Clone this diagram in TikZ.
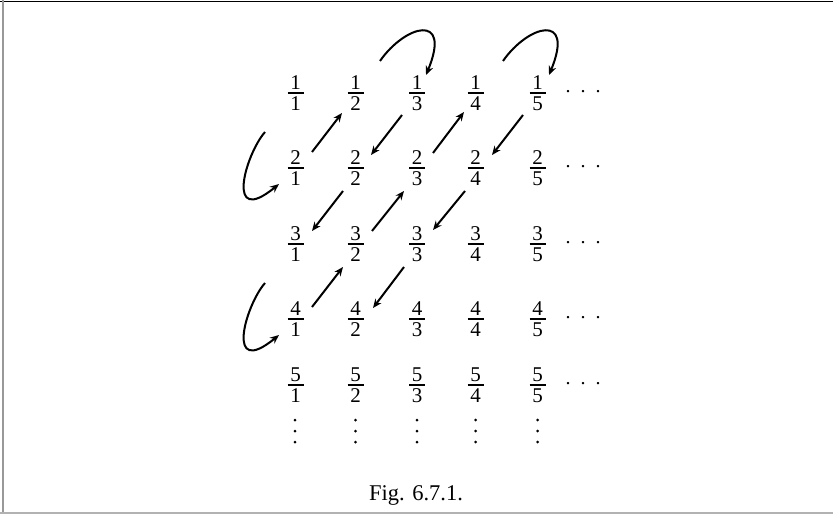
\documentclass[tikz,border=0pt]{standalone}
\usepackage{fontspec}
\setmainfont{Liberation Serif}
\usetikzlibrary{arrows.meta}
\tikzset{
  num/.style={anchor=base,inner sep=0pt,font=\fontsize{21}{25}\selectfont},
  bar/.style={line width=1.1pt},
  arr/.style={line width=2pt,-{Stealth[length=9pt,width=7.5pt]}},
  hdots/.style={anchor=base,inner sep=0pt,font=\fontsize{20}{24}\selectfont},
  vdot/.style={fill=black,draw=none},
  captext/.style={anchor=base,inner sep=0pt,font=\fontsize{22.5}{26}\selectfont},
}
\begin{document}
\begin{tikzpicture}[x=1pt,y=-1pt]
\useasboundingbox (0,0) rectangle (833,514);
% frame
\draw[line width=1.3pt,black] (0,1.6) -- (833,1.6);
\draw[line width=2pt,gray!80] (2.8,0) -- (2.8,514);
\draw[line width=1.5pt,gray!60] (0,513) -- (833,513);
% fractions
\foreach \r/\y in {1/93,2/168,3/244,4/319,5/385}{
  \foreach \c/\x in {1/295.5,2/355.5,3/417,4/475.5,5/537.5}{
    \node[num] (n\r\c) at (\x,\y-3.5) {\r};
    \node[num] (d\r\c) at (\x,\y+17) {\c};
    \coordinate (bl\r\c) at (\x-8,\y);
    \coordinate (br\r\c) at (\x+8,\y);
    \draw[bar] (bl\r\c) -- (br\r\c);
  }
  \node[hdots] (h\r) at (583,\y-0.5) {.\kern10pt.\kern10pt.};
}
\foreach \x in {295,355.5,417,475.5,537.5}{
  \foreach \yy in {420,431,442}{
    \fill[vdot] (\x,\yy) circle (1.5);
  }
}
% arrow end points
\coordinate (a1s) at (312,152); \coordinate (a1e) at (342,113);
\coordinate (a2s) at (402,115); \coordinate (a2e) at (371,155);
\coordinate (a3s) at (343,191); \coordinate (a3e) at (312,231);
\coordinate (a4s) at (312,307); \coordinate (a4e) at (343,267);
\coordinate (a5s) at (372,231); \coordinate (a5e) at (404,191);
\coordinate (a6s) at (433,153); \coordinate (a6e) at (464,112);
\coordinate (a7s) at (523,115); \coordinate (a7e) at (492,155);
\coordinate (a8s) at (465,191); \coordinate (a8e) at (433,230);
\coordinate (a9s) at (404,267); \coordinate (a9e) at (373,308);
\foreach \i in {1,...,9}{\draw[arr] (a\i s) -- (a\i e);}
% curved arrows
\coordinate (t1s) at (380,61); \coordinate (t1e) at (426,75);
\coordinate (t2s) at (503,61); \coordinate (t2e) at (549,75);
\coordinate (l1s) at (265,132); \coordinate (l1e) at (279,184);
\coordinate (l2s) at (265,283); \coordinate (l2e) at (279,335);
\draw[arr] (t1s) .. controls (405,25) and (452,12) .. (t1e);
\draw[arr] (t2s) .. controls (528,25) and (575,12) .. (t2e);
\draw[arr] (l1s) .. controls (245,155) and (225,228) .. (l1e);
\draw[arr] (l2s) .. controls (245,306) and (225,379) .. (l2e);
% caption
\node[captext] (caption) at (416,500.7) {Fig. 6.7.1.};
\end{tikzpicture}
\end{document}
